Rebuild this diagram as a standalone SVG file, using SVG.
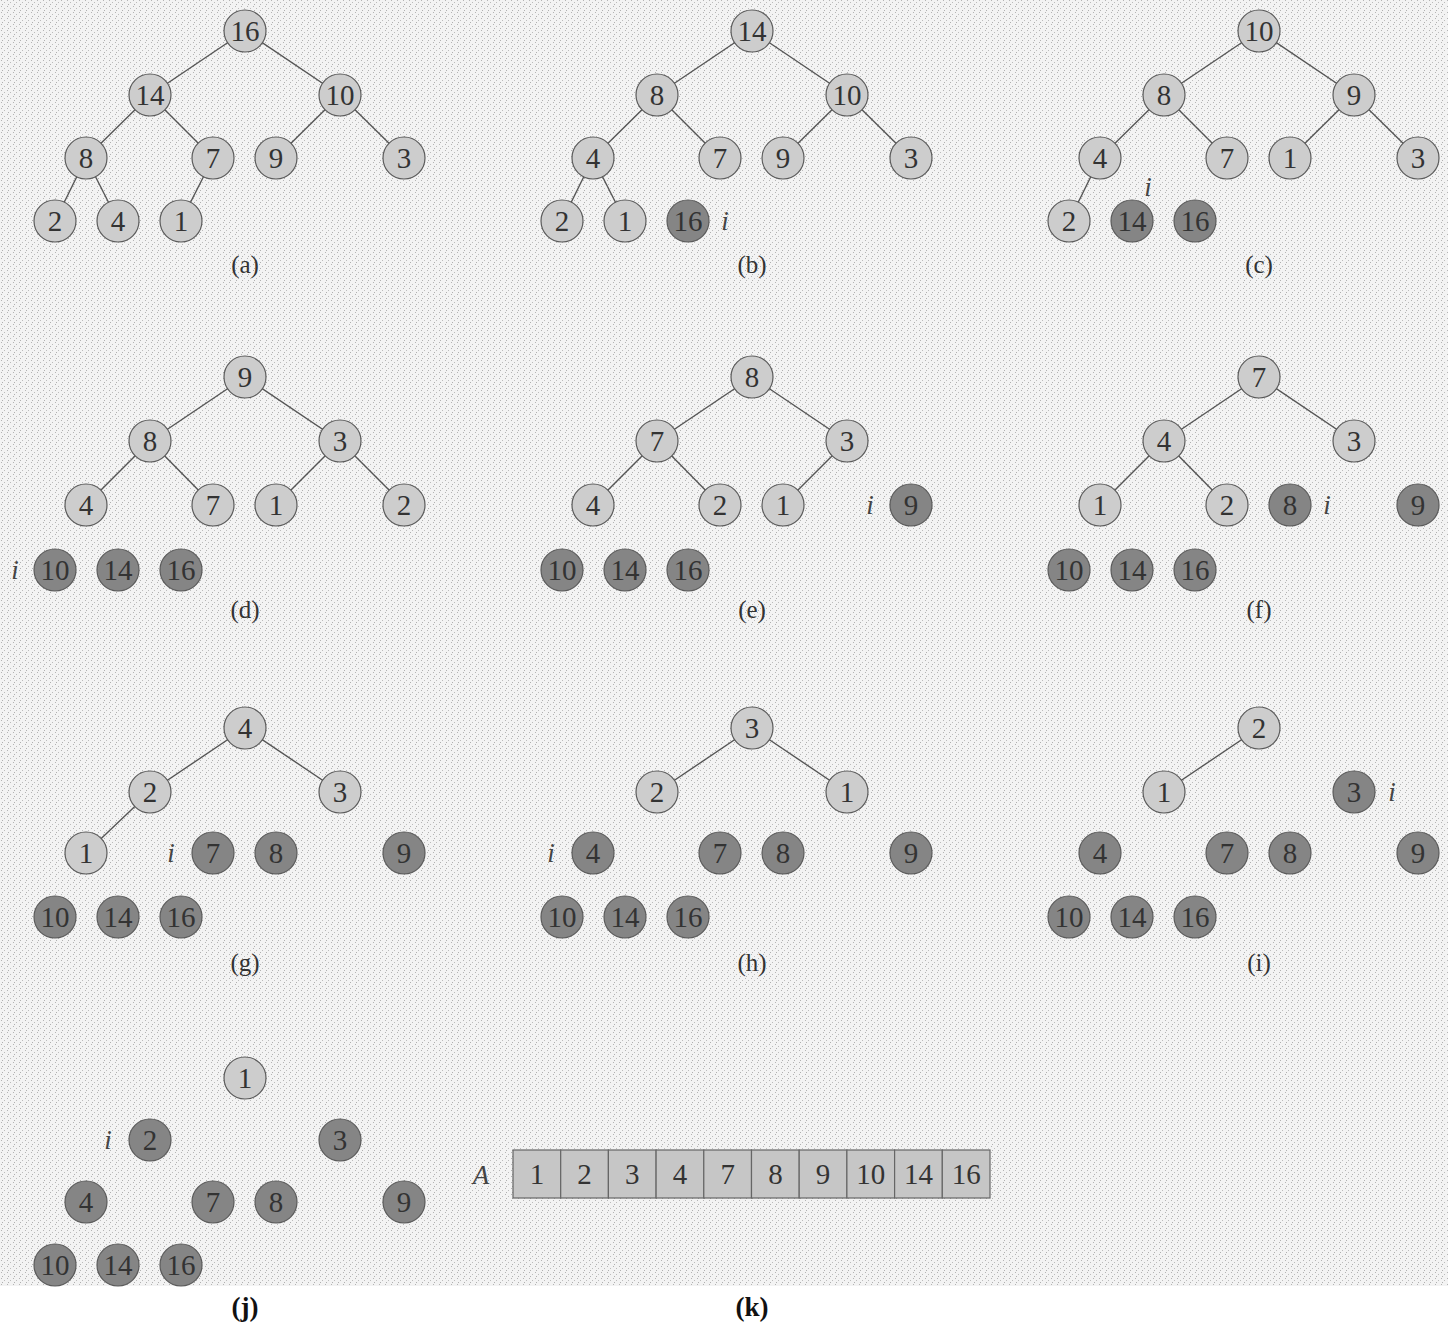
<svg xmlns="http://www.w3.org/2000/svg" width="1448" height="1328" viewBox="0 0 1448 1328">
<defs>
<pattern id="stip" width="6" height="6" patternUnits="userSpaceOnUse">
<rect width="6" height="6" fill="#f3f3f3"/>
<rect x="1" y="0" width="1" height="1" fill="#b4b4b4"/>
<rect x="4" y="2" width="1" height="1" fill="#bcbcbc"/>
<rect x="2" y="4" width="1" height="1" fill="#b0b0b0"/>
</pattern>
</defs>
<style>
.l{fill:#cdcdcd;stroke:#5a5a5a;stroke-width:1.2}
.d{fill:#858585;stroke:#5a5a5a;stroke-width:1.2}
.n{font-family:"Liberation Serif",serif;font-size:29px;fill:#333;text-anchor:middle}
.e line{stroke:#555;stroke-width:1.4}
.lab{font-family:"Liberation Serif",serif;font-size:25px;fill:#333;text-anchor:middle}
.bl{font-family:"Liberation Serif",serif;font-size:27px;font-weight:bold;fill:#111;text-anchor:middle}
.i{font-family:"Liberation Serif",serif;font-size:27px;font-style:italic;fill:#444;text-anchor:middle}
.cell{fill:#c6c6c6;stroke:#666;stroke-width:1.2}
</style>
<rect x="0" y="0" width="1448" height="1286" fill="url(#stip)"/>

<g id="connectors" class="e">
<line x1="245" y1="31" x2="150" y2="95"/><line x1="245" y1="31" x2="340" y2="95"/>
<line x1="150" y1="95" x2="86" y2="158"/><line x1="150" y1="95" x2="213" y2="158"/>
<line x1="340" y1="95" x2="276" y2="158"/><line x1="340" y1="95" x2="404" y2="158"/>
<line x1="86" y1="158" x2="55" y2="221"/><line x1="86" y1="158" x2="118" y2="221"/>
<line x1="213" y1="158" x2="181" y2="221"/>
<line x1="752" y1="31" x2="657" y2="95"/><line x1="752" y1="31" x2="847" y2="95"/>
<line x1="657" y1="95" x2="593" y2="158"/><line x1="657" y1="95" x2="720" y2="158"/>
<line x1="847" y1="95" x2="783" y2="158"/><line x1="847" y1="95" x2="911" y2="158"/>
<line x1="593" y1="158" x2="562" y2="221"/><line x1="593" y1="158" x2="625" y2="221"/>
<line x1="1259" y1="31" x2="1164" y2="95"/><line x1="1259" y1="31" x2="1354" y2="95"/>
<line x1="1164" y1="95" x2="1100" y2="158"/><line x1="1164" y1="95" x2="1227" y2="158"/>
<line x1="1354" y1="95" x2="1290" y2="158"/><line x1="1354" y1="95" x2="1418" y2="158"/>
<line x1="1100" y1="158" x2="1069" y2="221"/>
<line x1="245" y1="377" x2="150" y2="441"/><line x1="245" y1="377" x2="340" y2="441"/>
<line x1="150" y1="441" x2="86" y2="505"/><line x1="150" y1="441" x2="213" y2="505"/>
<line x1="340" y1="441" x2="276" y2="505"/><line x1="340" y1="441" x2="404" y2="505"/>
<line x1="752" y1="377" x2="657" y2="441"/><line x1="752" y1="377" x2="847" y2="441"/>
<line x1="657" y1="441" x2="593" y2="505"/><line x1="657" y1="441" x2="720" y2="505"/>
<line x1="847" y1="441" x2="783" y2="505"/>
<line x1="1259" y1="377" x2="1164" y2="441"/><line x1="1259" y1="377" x2="1354" y2="441"/>
<line x1="1164" y1="441" x2="1100" y2="505"/><line x1="1164" y1="441" x2="1227" y2="505"/>
<line x1="245" y1="728" x2="150" y2="792"/><line x1="245" y1="728" x2="340" y2="792"/>
<line x1="150" y1="792" x2="86" y2="853"/>
<line x1="752" y1="728" x2="657" y2="792"/><line x1="752" y1="728" x2="847" y2="792"/>
<line x1="1259" y1="728" x2="1164" y2="792"/>
</g>

<!-- panel a -->
<g id="a-16"><circle class="l" cx="245" cy="31" r="21"/><text class="n" x="245" y="41">16</text></g>
<g id="a-14"><circle class="l" cx="150" cy="95" r="21"/><text class="n" x="150" y="105">14</text></g>
<g id="a-10"><circle class="l" cx="340" cy="95" r="21"/><text class="n" x="340" y="105">10</text></g>
<g id="a-8"><circle class="l" cx="86" cy="158" r="21"/><text class="n" x="86" y="168">8</text></g>
<g id="a-7"><circle class="l" cx="213" cy="158" r="21"/><text class="n" x="213" y="168">7</text></g>
<g id="a-9"><circle class="l" cx="276" cy="158" r="21"/><text class="n" x="276" y="168">9</text></g>
<g id="a-3"><circle class="l" cx="404" cy="158" r="21"/><text class="n" x="404" y="168">3</text></g>
<g id="a-2"><circle class="l" cx="55" cy="221" r="21"/><text class="n" x="55" y="231">2</text></g>
<g id="a-4"><circle class="l" cx="118" cy="221" r="21"/><text class="n" x="118" y="231">4</text></g>
<g id="a-1"><circle class="l" cx="181" cy="221" r="21"/><text class="n" x="181" y="231">1</text></g>
<text class="lab" x="245" y="273">(a)</text>

<!-- panel b -->
<g id="b-14"><circle class="l" cx="752" cy="31" r="21"/><text class="n" x="752" y="41">14</text></g>
<g id="b-8"><circle class="l" cx="657" cy="95" r="21"/><text class="n" x="657" y="105">8</text></g>
<g id="b-10"><circle class="l" cx="847" cy="95" r="21"/><text class="n" x="847" y="105">10</text></g>
<g id="b-4"><circle class="l" cx="593" cy="158" r="21"/><text class="n" x="593" y="168">4</text></g>
<g id="b-7"><circle class="l" cx="720" cy="158" r="21"/><text class="n" x="720" y="168">7</text></g>
<g id="b-9"><circle class="l" cx="783" cy="158" r="21"/><text class="n" x="783" y="168">9</text></g>
<g id="b-3"><circle class="l" cx="911" cy="158" r="21"/><text class="n" x="911" y="168">3</text></g>
<g id="b-2"><circle class="l" cx="562" cy="221" r="21"/><text class="n" x="562" y="231">2</text></g>
<g id="b-1"><circle class="l" cx="625" cy="221" r="21"/><text class="n" x="625" y="231">1</text></g>
<g id="b-16"><circle class="d" cx="688" cy="221" r="21"/><text class="n" x="688" y="231">16</text></g>
<text class="i" x="725" y="230">i</text>
<text class="lab" x="752" y="273">(b)</text>

<!-- panel c -->
<g id="c-10"><circle class="l" cx="1259" cy="31" r="21"/><text class="n" x="1259" y="41">10</text></g>
<g id="c-8"><circle class="l" cx="1164" cy="95" r="21"/><text class="n" x="1164" y="105">8</text></g>
<g id="c-9"><circle class="l" cx="1354" cy="95" r="21"/><text class="n" x="1354" y="105">9</text></g>
<g id="c-4"><circle class="l" cx="1100" cy="158" r="21"/><text class="n" x="1100" y="168">4</text></g>
<g id="c-7"><circle class="l" cx="1227" cy="158" r="21"/><text class="n" x="1227" y="168">7</text></g>
<g id="c-1"><circle class="l" cx="1290" cy="158" r="21"/><text class="n" x="1290" y="168">1</text></g>
<g id="c-3"><circle class="l" cx="1418" cy="158" r="21"/><text class="n" x="1418" y="168">3</text></g>
<g id="c-2"><circle class="l" cx="1069" cy="221" r="21"/><text class="n" x="1069" y="231">2</text></g>
<g id="c-14"><circle class="d" cx="1132" cy="221" r="21"/><text class="n" x="1132" y="231">14</text></g>
<g id="c-16"><circle class="d" cx="1195" cy="221" r="21"/><text class="n" x="1195" y="231">16</text></g>
<text class="i" x="1148" y="196">i</text>
<text class="lab" x="1259" y="273">(c)</text>

<!-- panel d -->
<g id="d-9"><circle class="l" cx="245" cy="377" r="21"/><text class="n" x="245" y="387">9</text></g>
<g id="d-8"><circle class="l" cx="150" cy="441" r="21"/><text class="n" x="150" y="451">8</text></g>
<g id="d-3"><circle class="l" cx="340" cy="441" r="21"/><text class="n" x="340" y="451">3</text></g>
<g id="d-4"><circle class="l" cx="86" cy="505" r="21"/><text class="n" x="86" y="515">4</text></g>
<g id="d-7"><circle class="l" cx="213" cy="505" r="21"/><text class="n" x="213" y="515">7</text></g>
<g id="d-1"><circle class="l" cx="276" cy="505" r="21"/><text class="n" x="276" y="515">1</text></g>
<g id="d-2"><circle class="l" cx="404" cy="505" r="21"/><text class="n" x="404" y="515">2</text></g>
<g id="d-10"><circle class="d" cx="55" cy="570" r="21"/><text class="n" x="55" y="580">10</text></g>
<g id="d-14"><circle class="d" cx="118" cy="570" r="21"/><text class="n" x="118" y="580">14</text></g>
<g id="d-16"><circle class="d" cx="181" cy="570" r="21"/><text class="n" x="181" y="580">16</text></g>
<text class="i" x="15" y="579">i</text>
<text class="lab" x="245" y="618">(d)</text>

<!-- panel e -->
<g id="e-8"><circle class="l" cx="752" cy="377" r="21"/><text class="n" x="752" y="387">8</text></g>
<g id="e-7"><circle class="l" cx="657" cy="441" r="21"/><text class="n" x="657" y="451">7</text></g>
<g id="e-3"><circle class="l" cx="847" cy="441" r="21"/><text class="n" x="847" y="451">3</text></g>
<g id="e-4"><circle class="l" cx="593" cy="505" r="21"/><text class="n" x="593" y="515">4</text></g>
<g id="e-2"><circle class="l" cx="720" cy="505" r="21"/><text class="n" x="720" y="515">2</text></g>
<g id="e-1"><circle class="l" cx="783" cy="505" r="21"/><text class="n" x="783" y="515">1</text></g>
<g id="e-9"><circle class="d" cx="911" cy="505" r="21"/><text class="n" x="911" y="515">9</text></g>
<g id="e-10"><circle class="d" cx="562" cy="570" r="21"/><text class="n" x="562" y="580">10</text></g>
<g id="e-14"><circle class="d" cx="625" cy="570" r="21"/><text class="n" x="625" y="580">14</text></g>
<g id="e-16"><circle class="d" cx="688" cy="570" r="21"/><text class="n" x="688" y="580">16</text></g>
<text class="i" x="870" y="514">i</text>
<text class="lab" x="752" y="618">(e)</text>

<!-- panel f -->
<g id="f-7"><circle class="l" cx="1259" cy="377" r="21"/><text class="n" x="1259" y="387">7</text></g>
<g id="f-4"><circle class="l" cx="1164" cy="441" r="21"/><text class="n" x="1164" y="451">4</text></g>
<g id="f-3"><circle class="l" cx="1354" cy="441" r="21"/><text class="n" x="1354" y="451">3</text></g>
<g id="f-1"><circle class="l" cx="1100" cy="505" r="21"/><text class="n" x="1100" y="515">1</text></g>
<g id="f-2"><circle class="l" cx="1227" cy="505" r="21"/><text class="n" x="1227" y="515">2</text></g>
<g id="f-8"><circle class="d" cx="1290" cy="505" r="21"/><text class="n" x="1290" y="515">8</text></g>
<g id="f-9"><circle class="d" cx="1418" cy="505" r="21"/><text class="n" x="1418" y="515">9</text></g>
<g id="f-10"><circle class="d" cx="1069" cy="570" r="21"/><text class="n" x="1069" y="580">10</text></g>
<g id="f-14"><circle class="d" cx="1132" cy="570" r="21"/><text class="n" x="1132" y="580">14</text></g>
<g id="f-16"><circle class="d" cx="1195" cy="570" r="21"/><text class="n" x="1195" y="580">16</text></g>
<text class="i" x="1327" y="514">i</text>
<text class="lab" x="1259" y="618">(f)</text>

<!-- panel g -->
<g id="g-4"><circle class="l" cx="245" cy="728" r="21"/><text class="n" x="245" y="738">4</text></g>
<g id="g-2"><circle class="l" cx="150" cy="792" r="21"/><text class="n" x="150" y="802">2</text></g>
<g id="g-3"><circle class="l" cx="340" cy="792" r="21"/><text class="n" x="340" y="802">3</text></g>
<g id="g-1"><circle class="l" cx="86" cy="853" r="21"/><text class="n" x="86" y="863">1</text></g>
<g id="g-7"><circle class="d" cx="213" cy="853" r="21"/><text class="n" x="213" y="863">7</text></g>
<g id="g-8"><circle class="d" cx="276" cy="853" r="21"/><text class="n" x="276" y="863">8</text></g>
<g id="g-9"><circle class="d" cx="404" cy="853" r="21"/><text class="n" x="404" y="863">9</text></g>
<g id="g-10"><circle class="d" cx="55" cy="917" r="21"/><text class="n" x="55" y="927">10</text></g>
<g id="g-14"><circle class="d" cx="118" cy="917" r="21"/><text class="n" x="118" y="927">14</text></g>
<g id="g-16"><circle class="d" cx="181" cy="917" r="21"/><text class="n" x="181" y="927">16</text></g>
<text class="i" x="171" y="862">i</text>
<text class="lab" x="245" y="971">(g)</text>

<!-- panel h -->
<g id="h-3"><circle class="l" cx="752" cy="728" r="21"/><text class="n" x="752" y="738">3</text></g>
<g id="h-2"><circle class="l" cx="657" cy="792" r="21"/><text class="n" x="657" y="802">2</text></g>
<g id="h-1"><circle class="l" cx="847" cy="792" r="21"/><text class="n" x="847" y="802">1</text></g>
<g id="h-4"><circle class="d" cx="593" cy="853" r="21"/><text class="n" x="593" y="863">4</text></g>
<g id="h-7"><circle class="d" cx="720" cy="853" r="21"/><text class="n" x="720" y="863">7</text></g>
<g id="h-8"><circle class="d" cx="783" cy="853" r="21"/><text class="n" x="783" y="863">8</text></g>
<g id="h-9"><circle class="d" cx="911" cy="853" r="21"/><text class="n" x="911" y="863">9</text></g>
<g id="h-10"><circle class="d" cx="562" cy="917" r="21"/><text class="n" x="562" y="927">10</text></g>
<g id="h-14"><circle class="d" cx="625" cy="917" r="21"/><text class="n" x="625" y="927">14</text></g>
<g id="h-16"><circle class="d" cx="688" cy="917" r="21"/><text class="n" x="688" y="927">16</text></g>
<text class="i" x="551" y="862">i</text>
<text class="lab" x="752" y="971">(h)</text>

<!-- panel i -->
<g id="i-2"><circle class="l" cx="1259" cy="728" r="21"/><text class="n" x="1259" y="738">2</text></g>
<g id="i-1"><circle class="l" cx="1164" cy="792" r="21"/><text class="n" x="1164" y="802">1</text></g>
<g id="i-3"><circle class="d" cx="1354" cy="792" r="21"/><text class="n" x="1354" y="802">3</text></g>
<g id="i-4"><circle class="d" cx="1100" cy="853" r="21"/><text class="n" x="1100" y="863">4</text></g>
<g id="i-7"><circle class="d" cx="1227" cy="853" r="21"/><text class="n" x="1227" y="863">7</text></g>
<g id="i-8"><circle class="d" cx="1290" cy="853" r="21"/><text class="n" x="1290" y="863">8</text></g>
<g id="i-9"><circle class="d" cx="1418" cy="853" r="21"/><text class="n" x="1418" y="863">9</text></g>
<g id="i-10"><circle class="d" cx="1069" cy="917" r="21"/><text class="n" x="1069" y="927">10</text></g>
<g id="i-14"><circle class="d" cx="1132" cy="917" r="21"/><text class="n" x="1132" y="927">14</text></g>
<g id="i-16"><circle class="d" cx="1195" cy="917" r="21"/><text class="n" x="1195" y="927">16</text></g>
<text class="i" x="1392" y="801">i</text>
<text class="lab" x="1259" y="971">(i)</text>

<!-- panel j -->
<g id="j-1"><circle class="l" cx="245" cy="1078" r="21"/><text class="n" x="245" y="1088">1</text></g>
<g id="j-2"><circle class="d" cx="150" cy="1140" r="21"/><text class="n" x="150" y="1150">2</text></g>
<g id="j-3"><circle class="d" cx="340" cy="1140" r="21"/><text class="n" x="340" y="1150">3</text></g>
<g id="j-4"><circle class="d" cx="86" cy="1202" r="21"/><text class="n" x="86" y="1212">4</text></g>
<g id="j-7"><circle class="d" cx="213" cy="1202" r="21"/><text class="n" x="213" y="1212">7</text></g>
<g id="j-8"><circle class="d" cx="276" cy="1202" r="21"/><text class="n" x="276" y="1212">8</text></g>
<g id="j-9"><circle class="d" cx="404" cy="1202" r="21"/><text class="n" x="404" y="1212">9</text></g>
<g id="j-10"><circle class="d" cx="55" cy="1265" r="21"/><text class="n" x="55" y="1275">10</text></g>
<g id="j-14"><circle class="d" cx="118" cy="1265" r="21"/><text class="n" x="118" y="1275">14</text></g>
<g id="j-16"><circle class="d" cx="181" cy="1265" r="21"/><text class="n" x="181" y="1275">16</text></g>
<text class="i" x="108" y="1149">i</text>
<text class="bl" x="245" y="1316">(j)</text>

<!-- panel k: array -->
<g id="k-array">
<text class="i" x="481" y="1184">A</text>
<rect class="cell" x="513" y="1150" width="47.7" height="48"/><text class="n" x="536.9" y="1184">1</text>
<rect class="cell" x="560.7" y="1150" width="47.7" height="48"/><text class="n" x="584.6" y="1184">2</text>
<rect class="cell" x="608.4" y="1150" width="47.7" height="48"/><text class="n" x="632.3" y="1184">3</text>
<rect class="cell" x="656.1" y="1150" width="47.7" height="48"/><text class="n" x="680" y="1184">4</text>
<rect class="cell" x="703.8" y="1150" width="47.7" height="48"/><text class="n" x="727.7" y="1184">7</text>
<rect class="cell" x="751.5" y="1150" width="47.7" height="48"/><text class="n" x="775.4" y="1184">8</text>
<rect class="cell" x="799.2" y="1150" width="47.7" height="48"/><text class="n" x="823.1" y="1184">9</text>
<rect class="cell" x="846.9" y="1150" width="47.7" height="48"/><text class="n" x="870.8" y="1184">10</text>
<rect class="cell" x="894.6" y="1150" width="47.7" height="48"/><text class="n" x="918.5" y="1184">14</text>
<rect class="cell" x="942.3" y="1150" width="47.7" height="48"/><text class="n" x="966.2" y="1184">16</text>
</g>
<text class="bl" x="752" y="1316">(k)</text>
</svg>
